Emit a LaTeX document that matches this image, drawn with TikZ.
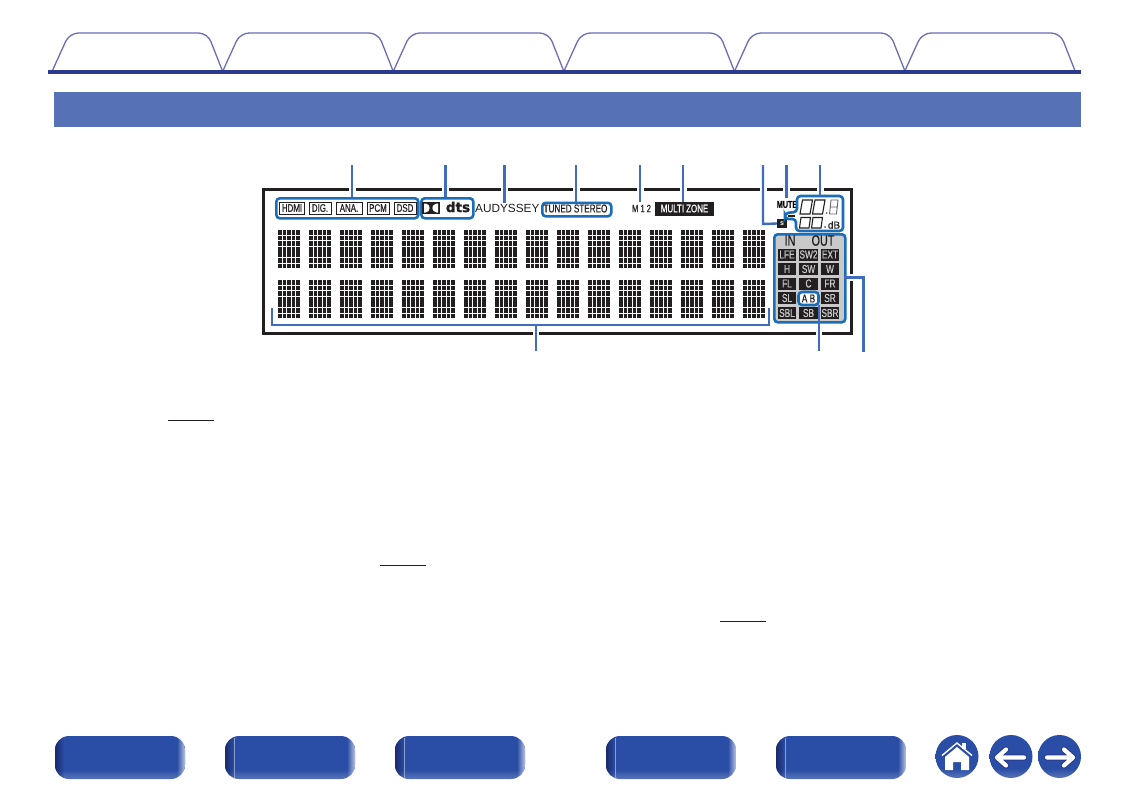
\documentclass[tikz,border=0pt]{standalone}
\usepackage{fontspec}
\setmainfont{Liberation Sans}
\newfontfamily\cond[FakeStretch=0.72,FakeBold=0.5]{Liberation Sans}
\newfontfamily\heavy[FakeBold=1.5]{DejaVu Sans Bold}
\usetikzlibrary{fadings}
\definecolor{tabline}{HTML}{6C6DB4}
\definecolor{navyline}{HTML}{2A3B8F}
\definecolor{band}{HTML}{5671B5}
\definecolor{hilite}{HTML}{1A6DB8}
\definecolor{leader}{HTML}{3F6CBB}
\definecolor{framek}{HTML}{231F20}
\definecolor{btn}{HTML}{2A4EA5}
\definecolor{btnlo}{HTML}{E4E0F2}
\definecolor{btndark}{HTML}{1B2A6B}
\definecolor{panel}{HTML}{C9C9C9}
\pgfdeclareverticalshading{btnshade}{100bp}{color(0bp)=(btnlo);color(6bp)=(btnlo);color(20bp)=(btn!62!btnlo);color(36bp)=(btn);color(92bp)=(btn);color(100bp)=(btn!85!white)}
\tikzset{
  tabpath/.style={draw=tabline,line width=1.3pt},
  hibox/.style={draw=hilite,line width=2.6pt,rounded corners=3.5pt,inner sep=0pt,anchor=north west},
  leaderline/.style={draw=leader,line width=2.4pt},
  keydark/.style={fill=framek,text=panel,inner sep=0pt,minimum width=18.5pt,minimum height=12pt,font=\cond\fontsize{11.5}{12}\selectfont},
  chip/.style={draw=framek,line width=1pt,fill=white,inner sep=0pt,minimum height=12pt,font=\cond\fontsize{11}{12}\selectfont,text=framek},
  inv/.style={fill=framek,text=white,inner sep=0pt},
  rule/.style={draw=framek,line width=1pt},
  seg/.style={draw=framek,line width=1.1pt},
  segg/.style={draw=black!60,line width=.9pt},
}
\newcommand{\tabshape}[1]{%
  \draw[tabpath,rounded corners=9pt] (#1,71.5) -- (#1+17.5,33) -- (#1+155.5,33) -- (#1+170.7,71.5);}
\newcommand{\bigbtn}[3]{%
  \begin{scope}
    \clip[rounded corners=14pt] (#1,736) rectangle (#1+130,779);
    \shade[shading=btnshade] (#1,736) rectangle (#1+130,779);
    \fill[btndark,path fading=east] (#1,736) rectangle (#1+9,779);
    \fill[white!70!btnlo,path fading=west,fill opacity=.7] (#1+122,736) rectangle (#1+130,779);
    \ifnum#2=1 \draw[white!45!btn,line width=.4pt] (#1+9,738) -- (#1+9,779);\fi
  \end{scope}
  \node[inner sep=0pt,minimum size=0pt] (#3) at (#1+65,757.5) {};}
\begin{document}
\begin{tikzpicture}[x=1pt,y=-1pt]
\useasboundingbox (0,0) rectangle (1135,800);
\fill[white] (0,0) rectangle (1135,800);
% tabs
\foreach \tx in {52,222.6,393.2,563.8,734.4,904.6}{\tabshape{\tx}}
\fill[navyline] (48,70) rectangle (1081,74);
\fill[band] (54,92) rectangle (1081,127);
% display frame
\node[draw=framek,line width=3pt,minimum width=588.5pt,minimum height=144.5pt,inner sep=0pt,anchor=north west] (display) at (261.5,187.5) {};
% dot matrix
\foreach \c in {0,...,15}{
  \foreach \r in {0,1}{
    \pgfmathsetmacro{\ox}{278+31*\c}
    \pgfmathsetmacro{\oy}{230+50*\r}
    \foreach \i in {0,...,4}{
      \foreach \j in {0,...,6}{
        \fill[framek] (\ox+\i*4.5,\oy+\j*5.6) rectangle ++(3.9,4.7);
      }}
  }}
% highlighted boxes
\node[hibox,minimum width=142pt,minimum height=20pt] (inputs) at (275,197) {};
\node[hibox,minimum width=52pt,minimum height=20pt] (dolby) at (420,197) {};
\node[chip,minimum width=25pt] (hdmi) at (292,208) {HDMI};
\node[chip,minimum width=22pt] (dig) at (320,208) {DIG.};
\node[chip,minimum width=26pt] (ana) at (349,208) {ANA.};
\node[chip,minimum width=22pt] (pcm) at (378,208) {PCM};
\node[chip,minimum width=22pt] (dsd) at (405,208) {DSD};
% dolby mark
\node[fill=framek,minimum width=18pt,minimum height=12.5pt,inner sep=0pt] (dmark) at (431,208) {};
\fill[white] (424,203.5) -- (425.5,203.5) .. controls (431,204) and (431,212) .. (425.5,212.5) -- (424,212.5) -- cycle;
\fill[white] (438,203.5) -- (436.5,203.5) .. controls (431,204) and (431,212) .. (436.5,212.5) -- (438,212.5) -- cycle;
\node[inner sep=0pt,text=framek] (dts) at (458,207) {\heavy\fontsize{13.5}{14}\selectfont dts};
\node[inner sep=0pt,text=framek,anchor=west] (aud) at (475,208) {\fontsize{11.8}{12}\selectfont AUDYSSEY};
\node[hibox,minimum width=69pt,minimum height=13.5pt] (tuned) at (541,201.5) {};
\node[inner sep=0pt,text=framek] (tunedtxt) at (575.5,208.5) {\cond\fontsize{11.3}{12}\selectfont TUNED STEREO};
\node[inner sep=0pt,text=framek] (m12) at (641.5,208.5) {\cond\fontsize{10.5}{11}\selectfont M 1 2};
\node[inv,minimum width=59pt,minimum height=14pt] (zone) at (684.5,208.5) {\cond\fontsize{11}{12}\selectfont MULTI ZONE};
\node[inner sep=0pt,text=black] (mute) at (787,204.5) {\cond\bfseries\fontsize{10}{10}\selectfont MUTE};
\node[inv,minimum width=10pt,minimum height=9pt,font=\bfseries\fontsize{7}{7}\selectfont] (sbox) at (782,223.5) {s};
% level box
\draw[hilite,line width=2.6pt,rounded corners=3.5pt,fill=white] (797,196) -- (843,196) -- (843,231) -- (796,231) -- (796,219) -- (785,219) -- (785,213) -- (797,212) -- cycle;
\coordinate (levtop) at (820,196);
\draw[seg] (802.5,200) -- (812.5,200) -- (810,214) -- (800,214) -- cycle;
\draw[seg] (815,200) -- (825,200) -- (822.5,214) -- (812.5,214) -- cycle;
\draw[seg] (801,217.5) -- (810.5,217.5) -- (809,228) -- (799.5,228) -- cycle;
\draw[seg] (813,217.5) -- (822.5,217.5) -- (821,228) -- (811.5,228) -- cycle;
\draw[segg] (831,200) -- (838,200) -- (836.5,214) -- (829.5,214) -- cycle (830.3,207) -- (837.3,207);
\draw[seg] (788,216) -- (795,216);
\fill[black!60] (826.5,213) circle (1pt);
\fill[black!70] (825,227) circle (1pt);
\node[inner sep=0pt,text=framek] (db) at (834,225) {\fontspec{Liberation Sans}[FakeBold=0.4]\fontsize{10}{10}\selectfont dB};
% speaker panel
\node[hibox,fill=panel,minimum width=71pt,minimum height=88pt] (panelbox) at (773,233) {};
\node[inner sep=0pt,text=framek] (in) at (790,240.5) {\cond\fontsize{15}{15}\selectfont IN};
\node[inner sep=0pt,text=framek] (out) at (823,240.5) {\cond\fontsize{15}{15}\selectfont OUT};
\node[keydark] (lfe) at (787,254.5) {LFE};
\node[keydark] (swb) at (808.5,254.5) {SW2};
\node[keydark] (ext) at (830,254.5) {EXT};
\node[keydark] (h) at (787,269) {H};
\node[keydark] (sw) at (808.5,269) {SW};
\node[keydark] (w) at (830,269) {W};
\node[keydark] (fl) at (787,283.5) {FL};
\node[keydark] (c) at (808.5,283.5) {C};
\node[keydark] (fr) at (830,283.5) {FR};
\node[keydark] (sl) at (787,298) {SL};
\node[keydark] (sr) at (830,298) {SR};
\node[keydark] (sbl) at (787,313) {SBL};
\node[keydark] (sb) at (808.5,313) {SB};
\node[keydark] (sbr) at (830,313) {SBR};
\node[hibox,fill=white,minimum width=20pt,minimum height=13pt,text=framek,font=\cond\fontsize{11.5}{12}\selectfont,anchor=center] (ab) at (808.5,298.5) {A B};
% leaders: white gaps in the frame
\coordinate (e1) at (352,165);
\coordinate (e2) at (445.5,165);
\coordinate (e3) at (504.5,165);
\coordinate (e4) at (576,165);
\coordinate (e5) at (640,165);
\coordinate (e6) at (683,165);
\coordinate (e7) at (763,165);
\coordinate (e8) at (786.5,165);
\coordinate (e9) at (820,165);
\coordinate (e10) at (536,351);
\coordinate (e11) at (819,351);
\coordinate (e12) at (863.5,352);
\coordinate (br) at (536,325);
\foreach \x in {352,445.5,504.5,576,640,683,763,786.5,820}{
  \draw[white,line width=7pt] (\x,185) -- (\x,191);}
\draw[white,line width=7pt] (847,277.5) -- (855,277.5);
\draw[white,line width=6pt] (536,329) -- (536,337);
\draw[white,line width=6pt] (819,329) -- (819,337);
\draw[leaderline] (e1) -- (352,197);
\draw[leaderline] (e2) -- (445.5,197);
\draw[leaderline] (e3) -- (504.5,202.5);
\draw[leaderline] (e4) -- (576,201.5);
\draw[leaderline] (e5) -- (640,201.5);
\draw[leaderline] (e6) -- (683,202);
\draw[leaderline] (e7) -- (763,224) -- (sbox.west);
\draw[leaderline] (e8) -- (786.5,198);
\draw[leaderline] (e9) -- (levtop);
\draw[leaderline] (e10) -- (br);
\draw[leaderline] (272,308) -- (272,325) -- (769,325) -- (769,308);
\draw[leaderline] (e11) -- (819,305);
\draw[leaderline] (e12) -- (863.5,277.5) -- (844,277.5);
% underlined links
\draw[rule] (168,420) -- (214,420);
\draw[rule] (380,565) -- (426,565);
\draw[rule] (720,621) -- (766,621);
% bottom buttons
\bigbtn{55}{0}{b1}
\bigbtn{225}{1}{b2}
\bigbtn{395}{1}{b3}
\bigbtn{606}{1}{b4}
\bigbtn{776}{1}{b5}
% round buttons
\foreach \n/\x in {home/957,back/1011,fwd/1059.5}{
  \shade[shading=btnshade] (\x,756.5) circle (21.5pt);
  \node[inner sep=0pt,minimum size=0pt] (\n) at (\x,756.5) {};
}
% home icon
\fill[white] (945,757) -- (957,747) -- (969,757) -- (969,770) -- (961,770) -- (961,762) -- (953,762) -- (953,770) -- (945,770) -- cycle;
\draw[white,line width=1.4pt] (942,755.5) -- (957,743) -- (972,755.5);
\fill[white] (962,743) rectangle (966,749);
% arrows
\draw[navyline,line width=6.4pt,line cap=round,line join=round] (1024,757.5) -- (998,757.5) (1006,749.5) -- (997,757.5) -- (1006,765.5);
\draw[white,line width=4.2pt,line cap=round,line join=round] (1024,757.5) -- (998,757.5) (1006,749.5) -- (997,757.5) -- (1006,765.5);
\draw[navyline,line width=6.4pt,line cap=round,line join=round] (1047,757.5) -- (1072,757.5) (1064,749.5) -- (1073,757.5) -- (1064,765.5);
\draw[white,line width=4.2pt,line cap=round,line join=round] (1047,757.5) -- (1072,757.5) (1064,749.5) -- (1073,757.5) -- (1064,765.5);
\end{tikzpicture}
\end{document}
